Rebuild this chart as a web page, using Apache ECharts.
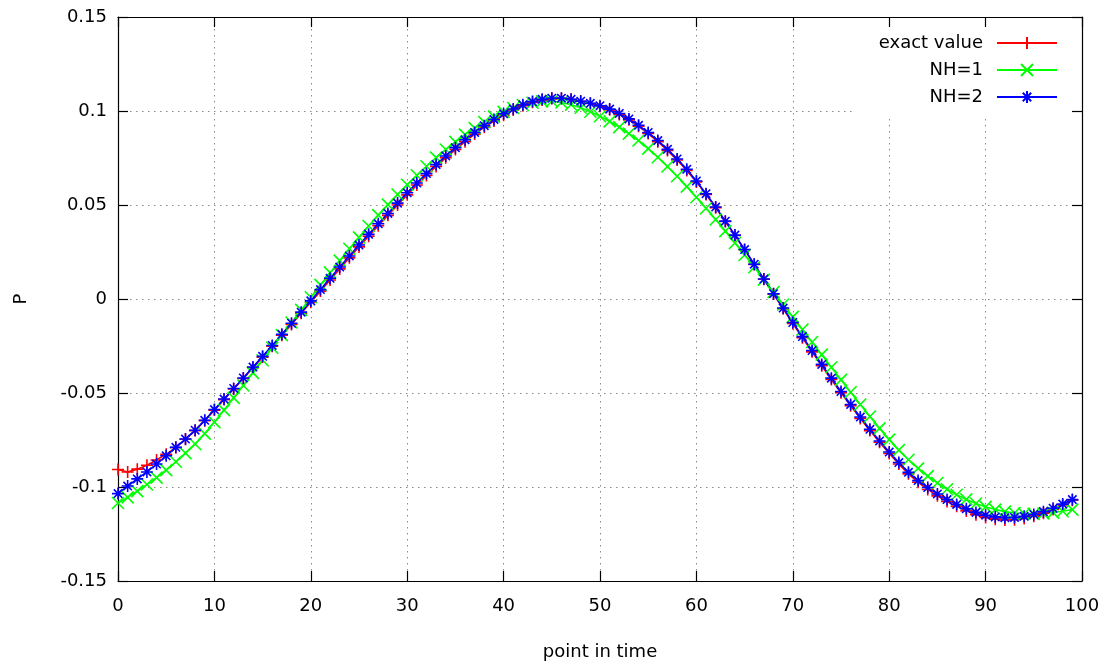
<!DOCTYPE html>
<html><head><meta charset="utf-8">
<script src="https://cdn.jsdelivr.net/npm/echarts@6/dist/echarts.min.js"></script>
<style>html,body{margin:0;padding:0;background:#fff}#c{width:1110px;height:666px}</style>
</head><body><div id="c"></div>
<script>
const xValues = [0,1,2,3,4,5,6,7,8,9,10,11,12,13,14,15,16,17,18,19,20,21,22,23,24,25,26,27,28,29,30,31,32,33,34,35,36,37,38,39,40,41,42,43,44,45,46,47,48,49,50,51,52,53,54,55,56,57,58,59,60,61,62,63,64,65,66,67,68,69,70,71,72,73,74,75,76,77,78,79,80,81,82,83,84,85,86,87,88,89,90,91,92,93,94,95,96,97,98,99];

const exactValue = [-0.0907,-0.0920,-0.0905,-0.0884,-0.0856,-0.0826,-0.0790,-0.0746,-0.0700,-0.0647,
-0.0591,-0.0535,-0.0479,-0.0423,-0.0366,-0.0309,-0.0251,-0.0193,-0.0135,-0.0076,
-0.0017,0.0042,0.0101,0.0160,0.0219,0.0277,0.0334,0.0390,0.0445,0.0500,
0.0554,0.0606,0.0657,0.0705,0.0751,0.0795,0.0837,0.0877,0.0914,0.0947,
0.0978,0.1005,0.1028,0.1046,0.1059,0.1066,0.1067,0.1062,0.1052,0.1040,
0.1025,0.1006,0.0982,0.0953,0.0919,0.0880,0.0837,0.0790,0.0739,0.0684,
0.0623,0.0556,0.0486,0.0412,0.0338,0.0262,0.0184,0.0105,0.0026,-0.0052,
-0.0130,-0.0206,-0.0281,-0.0355,-0.0428,-0.0499,-0.0568,-0.0635,-0.0700,-0.0762,
-0.0822,-0.0878,-0.0930,-0.0975,-0.1013,-0.1047,-0.1077,-0.1103,-0.1127,-0.1147,
-0.1162,-0.1171,-0.1175,-0.1174,-0.1167,-0.1155,-0.1139,-0.1120,-0.1096,-0.1070];

const nh1 = [-0.1085,-0.1055,-0.1022,-0.0987,-0.0950,-0.0910,-0.0866,-0.0820,-0.0771,-0.0716,
-0.0655,-0.0591,-0.0526,-0.0460,-0.0393,-0.0326,-0.0259,-0.0192,-0.0125,-0.0058,
0.0009,0.0075,0.0140,0.0204,0.0267,0.0328,0.0388,0.0446,0.0502,0.0556,
0.0608,0.0658,0.0706,0.0752,0.0795,0.0836,0.0874,0.0909,0.0941,0.0970,
0.0995,0.1016,0.1032,0.1044,0.1051,0.1052,0.1045,0.1033,0.1017,0.0996,
0.0972,0.0945,0.0914,0.0880,0.0843,0.0800,0.0754,0.0705,0.0653,0.0598,
0.0541,0.0483,0.0423,0.0361,0.0298,0.0234,0.0169,0.0103,0.0037,-0.0029,
-0.0095,-0.0162,-0.0229,-0.0296,-0.0363,-0.0430,-0.0496,-0.0561,-0.0625,-0.0688,
-0.0748,-0.0804,-0.0855,-0.0901,-0.0942,-0.0979,-0.1012,-0.1041,-0.1066,-0.1088,
-0.1106,-0.1120,-0.1131,-0.1138,-0.1142,-0.1143,-0.1141,-0.1136,-0.1129,-0.1120];

const nh2 = [-0.1035,-0.0995,-0.0957,-0.0920,-0.0878,-0.0834,-0.0789,-0.0745,-0.0698,-0.0645,
-0.0588,-0.0532,-0.0476,-0.0420,-0.0362,-0.0305,-0.0247,-0.0188,-0.0129,-0.0070,
-0.0010,0.0050,0.0110,0.0170,0.0229,0.0287,0.0344,0.0400,0.0455,0.0510,
0.0565,0.0617,0.0667,0.0715,0.0761,0.0805,0.0847,0.0886,0.0922,0.0955,
0.0985,0.1011,0.1033,0.1050,0.1062,0.1068,0.1068,0.1062,0.1052,0.1041,
0.1028,0.1010,0.0987,0.0958,0.0924,0.0886,0.0843,0.0796,0.0745,0.0690,
0.0628,0.0560,0.0489,0.0414,0.0340,0.0263,0.0185,0.0106,0.0028,-0.0048,
-0.0125,-0.0200,-0.0274,-0.0348,-0.0421,-0.0492,-0.0561,-0.0628,-0.0693,-0.0755,
-0.0814,-0.0870,-0.0922,-0.0966,-0.1003,-0.1037,-0.1067,-0.1093,-0.1116,-0.1135,
-0.1150,-0.1159,-0.1163,-0.1162,-0.1156,-0.1146,-0.1131,-0.1113,-0.1091,-0.1067];

const seriesNames = ['exact value', 'NH=1', 'NH=2'];
const xTickLabels = ['0','10','20','30','40','50','60','70','80','90','100'];
const yTickLabels = ['-0.15','-0.1','-0.05','0','0.05','0.1','0.15'];

const FONT = 'DejaVu Sans';
const FS = 18;
const SYM_PLUS = 'path://M0,5L10,5M5,0L5,10';
const SYM_CROSS = 'path://M0,0L10,10M10,0L0,10';
const SYM_STAR = 'path://M0,5L10,5M5,0L5,10M1.5,1.5L8.5,8.5M8.5,1.5L1.5,8.5';

const pairs = ys => xValues.map((x, i) => [x, ys[i]]);
function mkSeries(name, ys, color, sym) {
  return {
    name, type: 'line', data: pairs(ys), symbol: sym, symbolSize: 12,
    showSymbol: true, showAllSymbol: true, xAxisIndex: 0, yAxisIndex: 0,
    lineStyle: { color, width: 1.6 },
    itemStyle: { color, borderColor: color, borderWidth: 1.6 },
    emphasis: { disabled: true }, z: 2
  };
}
const dotted = { show: true, lineStyle: { color: '#8a8a8a', width: 1, type: [1.5, 4.5] } };
const axLine = { show: true, onZero: false, lineStyle: { color: '#000', width: 1.2 } };
const tick = { show: true, inside: true, length: 10, lineStyle: { color: '#000', width: 1.2 } };

function legendFor(name, top) {
  return {
    data: [name], orient: 'horizontal', align: 'right', right: 52, top,
    padding: 0, itemWidth: 60, itemHeight: 15, itemGap: 0,
    textStyle: { fontFamily: FONT, fontSize: FS, color: '#000', padding: [0, 9, 0, 0], lineHeight: 20 },
    selectedMode: false, z: 4
  };
}

const chart = echarts.init(document.getElementById('c'), null, { renderer: 'canvas' });
chart.setOption({
  animation: false,
  backgroundColor: '#fff',
  grid: { left: 118, right: 28, top: 17, bottom: 85, containLabel: false },
  legend: [legendFor(seriesNames[0], 33), legendFor(seriesNames[1], 60), legendFor(seriesNames[2], 87)],
  graphic: [{ type: 'rect', shape: { x: 852, y: 18, width: 229, height: 98 }, style: { fill: '#fff' }, z: 1, silent: true }],
  xAxis: [{
    type: 'value', min: 0, max: 100, interval: 10, position: 'bottom', z: 0,
    axisLine: axLine, axisTick: tick,
    splitLine: dotted,
    axisLabel: { fontFamily: FONT, fontSize: FS, color: '#000', margin: 16,
      formatter: (v) => xTickLabels[Math.round(v / 10)] },
    name: 'point in time', nameLocation: 'middle', nameGap: 62,
    nameTextStyle: { fontFamily: FONT, fontSize: FS, color: '#000' }
  }, {
    type: 'value', min: 0, max: 100, interval: 10, position: 'top', z: 5,
    axisLine: axLine, axisTick: tick,
    splitLine: { show: false }, axisLabel: { show: false }
  }],
  yAxis: [{
    type: 'value', min: -0.15, max: 0.15, interval: 0.05, position: 'left', z: 0,
    axisLine: axLine, axisTick: tick,
    splitLine: dotted,
    axisLabel: { fontFamily: FONT, fontSize: FS, color: '#000', margin: 11,
      formatter: (v) => yTickLabels[Math.round((v + 0.15) / 0.05)] },
    name: 'P', nameLocation: 'middle', nameGap: 88,
    nameTextStyle: { fontFamily: FONT, fontSize: FS, color: '#000' }
  }, {
    type: 'value', min: -0.15, max: 0.15, interval: 0.05, position: 'right', z: 5,
    axisLine: axLine, axisTick: tick,
    splitLine: { show: false }, axisLabel: { show: false }
  }],
  series: [
    mkSeries(seriesNames[0], exactValue, '#ff0000', SYM_PLUS),
    mkSeries(seriesNames[1], nh1, '#00ff00', SYM_CROSS),
    mkSeries(seriesNames[2], nh2, '#0000ff', SYM_STAR)
  ]
});
</script></body></html>
